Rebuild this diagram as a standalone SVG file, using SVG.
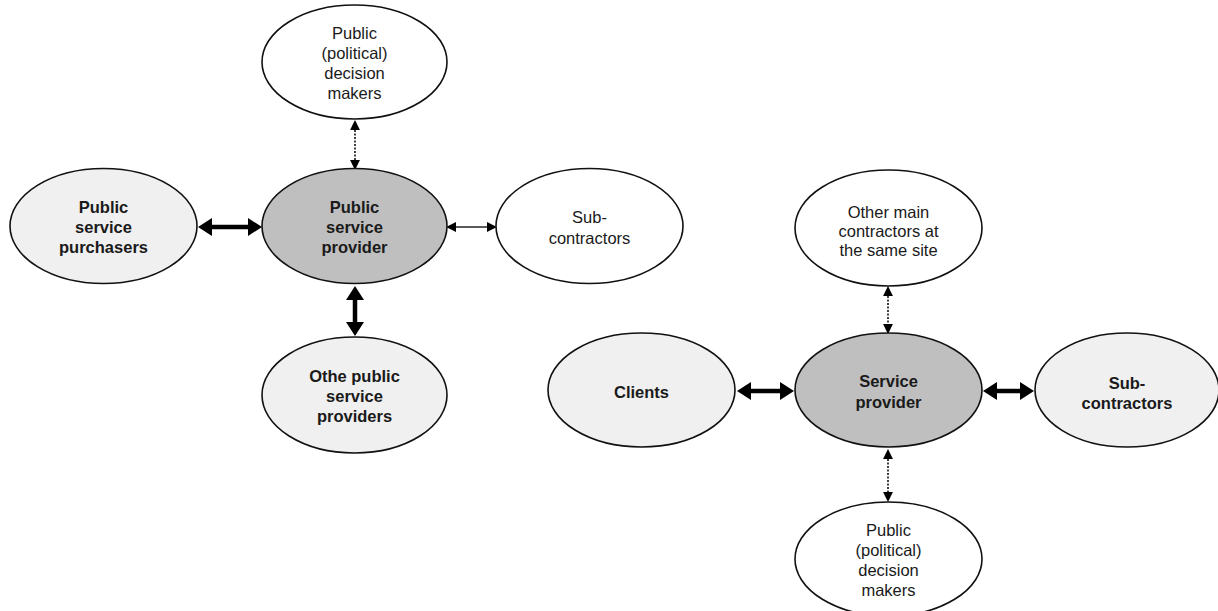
<svg xmlns="http://www.w3.org/2000/svg" width="1218" height="611" viewBox="0 0 1218 611">
  <style>
    .node ellipse { stroke: #111; stroke-width: 1.6; }
    .white { fill: #ffffff; }
    .light { fill: #f0f0f0; }
    .dark { fill: #bfbfbf; }
    text { font-family: "Liberation Sans", Arial, sans-serif; font-size: 16.5px; fill: #1a1a1a; text-anchor: middle; }
    .b { font-weight: bold; }
    .thick { stroke: #000; stroke-width: 4.5; fill: none; }
    .thin { stroke: #000; stroke-width: 1.3; fill: none; }
    .dot { stroke: #000; stroke-width: 1.5; stroke-dasharray: 2 1.5; fill: none; }
  </style>
  <defs>
    <marker id="headBig" markerUnits="userSpaceOnUse" markerWidth="16" markerHeight="20" refX="0" refY="9" orient="auto-start-reverse" viewBox="0 0 16 18">
      <path d="M0,0 L14,9 L0,18 z" fill="#000"/>
    </marker>
    <marker id="headSmall" markerUnits="userSpaceOnUse" markerWidth="11" markerHeight="11" refX="0" refY="4.5" orient="auto-start-reverse" viewBox="0 0 10 9">
      <path d="M0,0 L9,4.5 L0,9 z" fill="#000"/>
    </marker>
  </defs>

  <!-- connectors -->
  <g id="connectors">
    <line class="thick" x1="212" y1="227" x2="248" y2="227" marker-start="url(#headBig)" marker-end="url(#headBig)"/>
    <line class="thin" x1="456" y1="227" x2="487" y2="227" marker-start="url(#headSmall)" marker-end="url(#headSmall)"/>
    <line class="dot" x1="355" y1="130" x2="355" y2="160" marker-start="url(#headSmall)" marker-end="url(#headSmall)"/>
    <line class="thick" x1="355" y1="300" x2="355" y2="322" marker-start="url(#headBig)" marker-end="url(#headBig)"/>
    <line class="dot" x1="888" y1="296" x2="888" y2="324" marker-start="url(#headSmall)" marker-end="url(#headSmall)"/>
    <line class="thick" x1="751" y1="391" x2="780" y2="391" marker-start="url(#headBig)" marker-end="url(#headBig)"/>
    <line class="thick" x1="997" y1="391" x2="1020" y2="391" marker-start="url(#headBig)" marker-end="url(#headBig)"/>
    <line class="dot" x1="888" y1="459" x2="888" y2="492" marker-start="url(#headSmall)" marker-end="url(#headSmall)"/>
  </g>

  <!-- left cluster -->
  <g id="n-decision-top" class="node">
    <ellipse class="white" cx="354.5" cy="62" rx="92.5" ry="57"/>
    <text x="354.5" y="39">Public</text>
    <text x="354.5" y="59">(political)</text>
    <text x="354.5" y="79">decision</text>
    <text x="354.5" y="99">makers</text>
  </g>
  <g id="n-purchasers" class="node">
    <ellipse class="light" cx="103.5" cy="226" rx="93.5" ry="57.5"/>
    <text class="b" x="103.5" y="213">Public</text>
    <text class="b" x="103.5" y="233">service</text>
    <text class="b" x="103.5" y="253">purchasers</text>
  </g>
  <g id="n-public-provider" class="node">
    <ellipse class="dark" cx="354.5" cy="226" rx="92.5" ry="57.5"/>
    <text class="b" x="354.5" y="213">Public</text>
    <text class="b" x="354.5" y="233">service</text>
    <text class="b" x="354.5" y="253">provider</text>
  </g>
  <g id="n-subcontractors-top" class="node">
    <ellipse class="white" cx="589.5" cy="226" rx="93.5" ry="57.5"/>
    <text x="589.5" y="223">Sub-</text>
    <text x="589.5" y="244">contractors</text>
  </g>
  <g id="n-other-public" class="node">
    <ellipse class="light" cx="354.5" cy="395" rx="92.5" ry="58"/>
    <text class="b" x="354.5" y="382">Othe public</text>
    <text class="b" x="354.5" y="402">service</text>
    <text class="b" x="354.5" y="422">providers</text>
  </g>

  <!-- right cluster -->
  <g id="n-other-main" class="node">
    <ellipse class="white" cx="888.5" cy="228" rx="93.5" ry="58"/>
    <text x="888.5" y="218">Other main</text>
    <text x="888.5" y="237">contractors at</text>
    <text x="888.5" y="256">the same site</text>
  </g>
  <g id="n-clients" class="node">
    <ellipse class="light" cx="641.5" cy="390" rx="93.5" ry="57"/>
    <text class="b" x="641.5" y="398">Clients</text>
  </g>
  <g id="n-service-provider" class="node">
    <ellipse class="dark" cx="888.5" cy="390" rx="93.5" ry="57"/>
    <text class="b" x="888.5" y="387">Service</text>
    <text class="b" x="888.5" y="408">provider</text>
  </g>
  <g id="n-subcontractors-right" class="node">
    <ellipse class="light" cx="1127" cy="390" rx="92" ry="57"/>
    <text class="b" x="1127" y="389">Sub-</text>
    <text class="b" x="1127" y="409">contractors</text>
  </g>
  <g id="n-decision-bottom" class="node">
    <ellipse class="white" cx="888.5" cy="559" rx="93.5" ry="57"/>
    <text x="888.5" y="536">Public</text>
    <text x="888.5" y="556">(political)</text>
    <text x="888.5" y="576">decision</text>
    <text x="888.5" y="596">makers</text>
  </g>
</svg>
